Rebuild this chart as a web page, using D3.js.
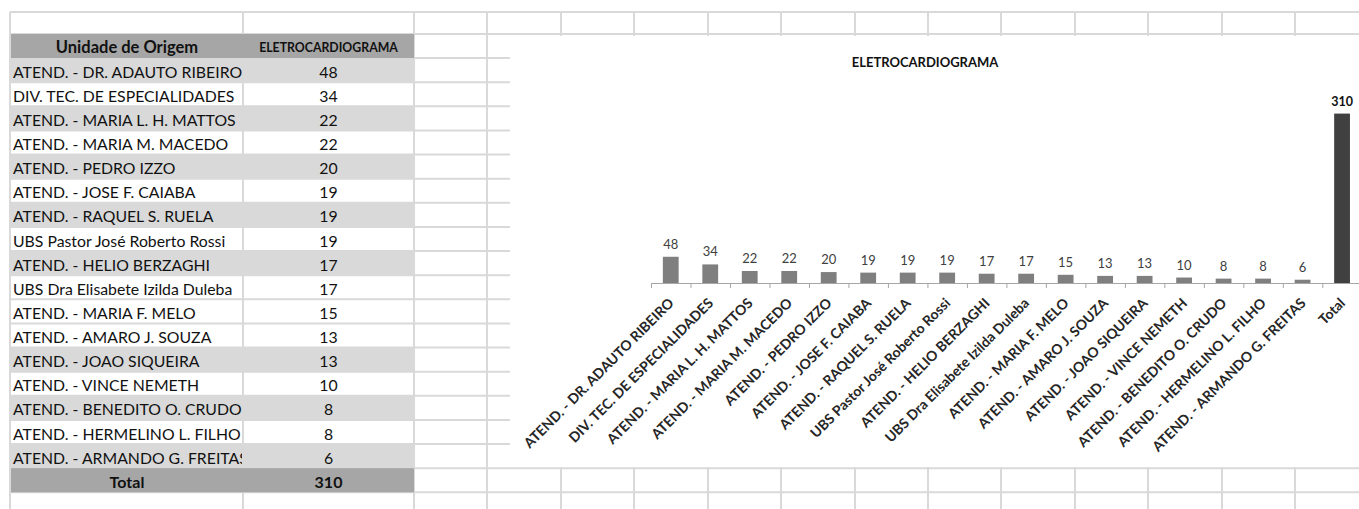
<!DOCTYPE html>
<html>
<head>
<meta charset="utf-8">
<script src="https://cdn.jsdelivr.net/npm/d3@7"></script>
<style>
  html, body { margin: 0; padding: 0; background: #fff; }
  svg { display: block; }
  text { font-family: Lato, "Open Sans", sans-serif; }
</style>
</head>
<body>
<svg id="sheet" width="1359" height="509"></svg>
<script>
// Exames de eletrocardiograma por unidade de origem
const units = [
  "ATEND. - DR. ADAUTO RIBEIRO",
  "DIV. TEC. DE ESPECIALIDADES",
  "ATEND. - MARIA L. H. MATTOS",
  "ATEND. - MARIA M. MACEDO",
  "ATEND. - PEDRO IZZO",
  "ATEND. - JOSE F. CAIABA",
  "ATEND. - RAQUEL S. RUELA",
  "UBS Pastor José Roberto Rossi",
  "ATEND. - HELIO BERZAGHI",
  "UBS Dra Elisabete Izilda Duleba",
  "ATEND. - MARIA F. MELO",
  "ATEND. - AMARO J. SOUZA",
  "ATEND. - JOAO SIQUEIRA",
  "ATEND. - VINCE NEMETH",
  "ATEND. - BENEDITO O. CRUDO",
  "ATEND. - HERMELINO L. FILHO",
  "ATEND. - ARMANDO G. FREITAS"
];
const exams = [48, 34, 22, 22, 20, 19, 19, 19, 17, 17, 15, 13, 13, 10, 8, 8, 6];
const totalLabel = "Total";
const totalValue = 310;
const headerUnit = "Unidade de Origem";
const headerExam = "ELETROCARDIOGRAMA";
const chartTitle = "ELETROCARDIOGRAMA";
// Faixas cinza alternadas da tabela (índice da linha de dados)
const shadedRows = [0, 2, 4, 6, 8, 12, 14, 16];

const svg = d3.select("#sheet");
const W = 1359, H = 509;

// ---------- grade da planilha ----------
const colEdges = [10, 243, 414, 487, 561, 634, 708, 781, 855, 928, 1001, 1075, 1148, 1222, 1295, 1369];
const rowTop = 12, headTop = 34, rowH = 24.12;
const nRows = units.length + 2; // cabeçalho + dados + total
const rowEdge = i => headTop + i * rowH;
const gridColor = "#d9d9d9";

const grid = svg.append("g");
const hLines = [rowTop];
for (let i = 0; i <= nRows + 1; i++) hLines.push(rowEdge(i));
grid.selectAll("line.h").data(hLines).join("line")
  .attr("x1", colEdges[0]).attr("x2", W)
  .attr("y1", d => d).attr("y2", d => d)
  .attr("stroke", gridColor).attr("stroke-width", 2);
grid.selectAll("line.v").data(colEdges).join("line")
  .attr("x1", d => d).attr("x2", d => d)
  .attr("y1", rowTop).attr("y2", H)
  .attr("stroke", gridColor).attr("stroke-width", 2);

// ---------- tabela ----------
const table = svg.append("g");
const tx0 = colEdges[0] + 1, tx1 = colEdges[1], tx2 = colEdges[2];

table.append("rect").attr("x", tx0).attr("y", rowEdge(0))
  .attr("width", tx2 - tx0).attr("height", rowH).attr("fill", "#a6a6a6");
table.selectAll("rect.band").data(shadedRows).join("rect")
  .attr("x", tx0).attr("y", d => rowEdge(d + 1))
  .attr("width", tx2 - tx0).attr("height", rowH).attr("fill", "#d9d9d9");
table.append("rect").attr("x", tx0).attr("y", rowEdge(units.length + 1))
  .attr("width", tx2 - tx0).attr("height", rowH).attr("fill", "#a6a6a6");

svg.append("clipPath").attr("id", "labelClip")
  .append("rect").attr("x", tx0).attr("y", 0).attr("width", tx1 - tx0 - 1).attr("height", H);

const base = i => rowEdge(i + 1) - 4.5;
const cx1 = (tx0 + tx1) / 2, cx2 = (tx1 + tx2) / 2;
const bodySize = 15.8;

table.append("text").attr("x", cx1).attr("y", base(0) - 0.5)
  .attr("text-anchor", "middle").attr("font-weight", 700).attr("font-size", 16.5)
  .attr("fill", "#111").text(headerUnit);
table.append("text").attr("x", cx2).attr("y", base(0) - 1.5)
  .attr("text-anchor", "middle").attr("font-weight", 700).attr("font-size", 12.3)
  .attr("fill", "#111").text(headerExam);

table.append("g").attr("clip-path", "url(#labelClip)")
  .selectAll("text").data(units).join("text")
  .attr("x", tx0 + 2).attr("y", (d, i) => base(i + 1))
  .attr("font-size", bodySize).attr("fill", "#111").text(d => d);

table.append("g").selectAll("text").data(exams).join("text")
  .attr("x", cx2).attr("y", (d, i) => base(i + 1))
  .attr("text-anchor", "middle").attr("font-size", bodySize).attr("fill", "#111").text(d => d);

table.append("text").attr("x", cx1).attr("y", base(units.length + 1))
  .attr("text-anchor", "middle").attr("font-weight", 700).attr("font-size", 16)
  .attr("fill", "#111").text(totalLabel);
table.append("text").attr("x", cx2).attr("y", base(units.length + 1))
  .attr("text-anchor", "middle").attr("font-weight", 700).attr("font-size", 16)
  .attr("fill", "#111").text(totalValue);

// ---------- gráfico ----------
const chartBox = { x: 510, y: 36, w: W - 510, h: 431 };
const chart = svg.append("g");
chart.append("rect").attr("x", chartBox.x).attr("y", chartBox.y)
  .attr("width", chartBox.w).attr("height", chartBox.h).attr("fill", "#fff");

chart.append("text").attr("x", 925).attr("y", 67)
  .attr("text-anchor", "middle").attr("font-weight", 700).attr("font-size", 13)
  .attr("fill", "#111").text(chartTitle);

const cats = units.concat([totalLabel]);
const vals = exams.concat([totalValue]);
const plotL = 651, plotR = 1361.8, baseY = 283;

const x = d3.scaleBand().domain(cats).range([plotL, plotR])
  .paddingInner(0.6).paddingOuter(0.3);
const y = d3.scaleLinear().domain([0, 350]).range([baseY, baseY - 350 * 0.5465]);

chart.append("g").selectAll("rect").data(cats).join("rect")
  .attr("x", d => x(d)).attr("width", x.bandwidth())
  .attr("y", (d, i) => y(vals[i])).attr("height", (d, i) => baseY - y(vals[i]))
  .attr("fill", d => d === totalLabel ? "#404040" : "#7f7f7f");

chart.append("g").selectAll("text").data(cats).join("text")
  .attr("x", d => x(d) + x.bandwidth() / 2)
  .attr("y", (d, i) => y(vals[i]) - 8)
  .attr("text-anchor", "middle")
  .attr("font-size", d => d === totalLabel ? 12.5 : 13)
  .attr("font-weight", d => d === totalLabel ? 700 : 400)
  .attr("fill", d => d === totalLabel ? "#111" : "#404040")
  .text((d, i) => vals[i]);

// marcas do eixo entre categorias
const xi = d3.scaleLinear().domain([0, cats.length]).range([plotL, plotR]);
const tickAxis = chart.append("g").attr("transform", `translate(0,${baseY})`)
  .call(d3.axisBottom(xi).tickValues(d3.range(0, cats.length + 1)).tickSize(5).tickFormat(""));
tickAxis.selectAll("path, line").attr("stroke", "#a6a6a6");

// rótulos das categorias
const labelAxis = chart.append("g").attr("transform", `translate(0,${baseY})`)
  .call(d3.axisBottom(x).tickSize(0));
labelAxis.select(".domain").remove();
labelAxis.selectAll("text")
  .attr("font-family", "Lato, sans-serif")
  .attr("font-size", 14).attr("font-weight", 700).attr("fill", "#262626")
  .attr("text-anchor", "end")
  .attr("dy", null).attr("y", 0)
  .attr("transform", "translate(4,21) rotate(-45)");
</script>
</body>
</html>
